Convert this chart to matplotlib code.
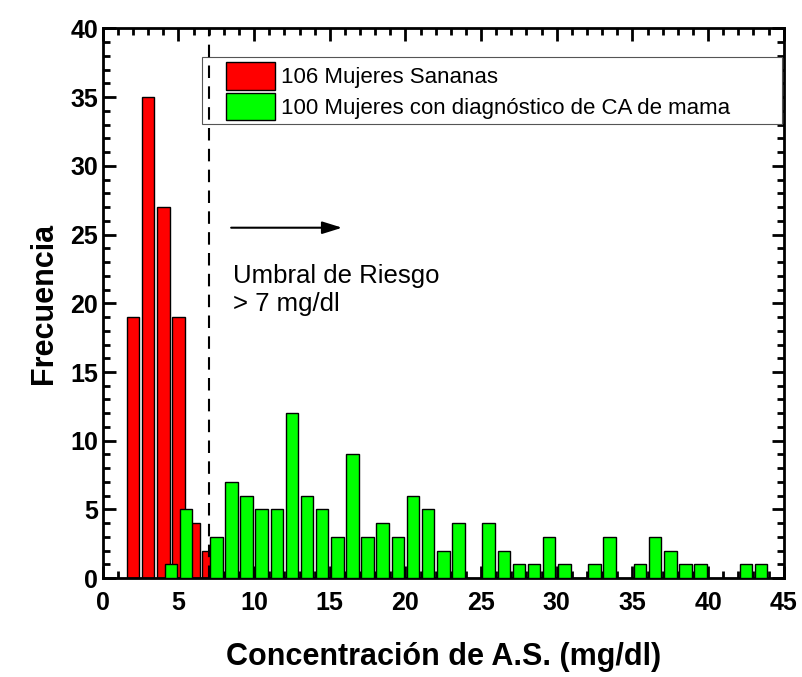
import matplotlib.pyplot as plt
import numpy as np
from matplotlib.patches import Rectangle
from matplotlib.ticker import MultipleLocator

# datos del histograma
sanas_x = [2, 3, 4, 5, 6, 7]
sanas_n = [19, 35, 27, 19, 4, 2]

ca_x = [4.5, 5.5, 7.5, 8.5, 9.5, 10.5, 11.5, 12.5, 13.5, 14.5, 15.5, 16.5, 17.5,
        18.5, 19.5, 20.5, 21.5, 22.5, 23.5, 25.5, 26.5, 27.5, 28.5, 29.5, 30.5,
        32.5, 33.5, 35.5, 36.5, 37.5, 38.5, 39.5, 42.5, 43.5]
ca_n = [1, 5, 3, 7, 6, 5, 5, 12, 6, 5, 3, 9, 3,
        4, 3, 6, 5, 2, 4, 4, 2, 1, 1, 3, 1,
        1, 3, 1, 3, 2, 1, 1, 1, 1]

etiquetas = ['106 Mujeres Sananas', '100 Mujeres con diagnóstico de CA de mama']
umbral = 7
nota = ['Umbral de Riesgo', '> 7 mg/dl']

plt.rcParams['font.family'] = ['Liberation Sans', 'DejaVu Sans']

fig = plt.figure(figsize=(8.03, 6.77), dpi=100)
ax = fig.add_axes([0.128, 0.146, 0.848, 0.812])

ax.bar(sanas_x, sanas_n, width=0.83, color='#ff0000', edgecolor='black', linewidth=1.0,
       label=etiquetas[0], zorder=2)
ax.bar(ca_x, ca_n, width=0.83, color='#00ff00', edgecolor='black', linewidth=1.0,
       label=etiquetas[1], zorder=3)

ax.axvline(umbral, color='black', linestyle=(0, (6, 4)), linewidth=1.5, zorder=6)
ax.annotate('', xy=(16.0, 25.5), xytext=(8.3, 25.5),
            arrowprops=dict(arrowstyle='-|>,head_length=0.8,head_width=0.25',
                            color='black', lw=1.5, mutation_scale=15))
ax.text(8.6, 21.5, nota[0], fontsize=18.5, va='baseline', ha='left')
ax.text(8.6, 19.45, nota[1], fontsize=18.5, va='baseline', ha='left')

ax.set_xlim(0, 45)
ax.set_ylim(0, 40)
ax.xaxis.set_major_locator(MultipleLocator(5))
ax.xaxis.set_minor_locator(MultipleLocator(1))
ax.yaxis.set_major_locator(MultipleLocator(5))
ax.yaxis.set_minor_locator(MultipleLocator(1))
ax.tick_params(which='both', direction='in', top=True, right=True, width=2)
ax.tick_params(which='major', length=9, labelsize=18)
ax.tick_params(which='minor', length=5)
ax.tick_params(axis='x', which='major', pad=9)
for s in ax.spines.values():
    s.set_linewidth(2)

for lbl in ax.get_xticklabels() + ax.get_yticklabels():
    lbl.set_fontweight('bold')

ax.set_xlabel('Concentración de A.S. (mg/dl)', fontweight='bold', fontsize=22, labelpad=20)
ax.set_ylabel('Frecuencia', fontweight='bold', fontsize=22, labelpad=8)

# marco de la leyenda (más ancho que su contenido, como en el original)
marco = Rectangle((0.1454, 0.826), 0.852, 0.1218, transform=ax.transAxes,
                  facecolor='white', edgecolor='#555555', linewidth=0.8, zorder=5)
ax.add_patch(marco)
leg = ax.legend(loc='upper left', bbox_to_anchor=(0.1806, 0.9387), frameon=False,
                fontsize=16, handlelength=2.2, handleheight=1.55, borderpad=0,
                labelspacing=0.12, handletextpad=0.3, borderaxespad=0)
leg.set_zorder(5.5)

fig.savefig('out.png', dpi=100)
